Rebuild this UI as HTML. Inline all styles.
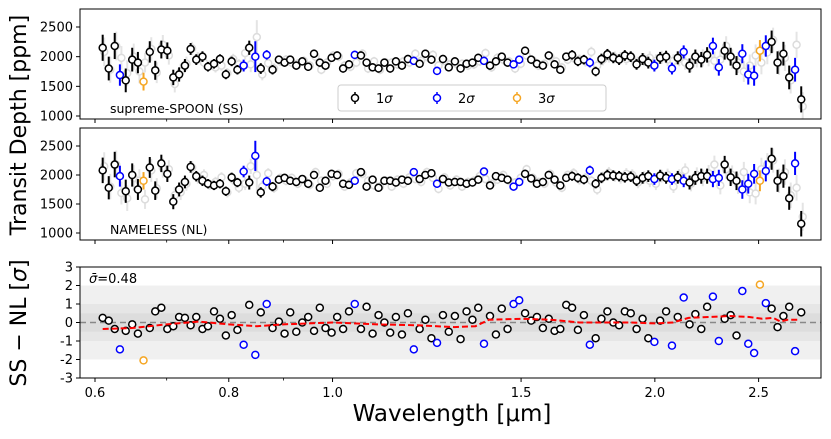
<!DOCTYPE html>
<html><head><meta charset="utf-8">
<style>
html,body{margin:0;padding:0;background:#fff;}
svg{display:block;font-family:"DejaVu Sans","Liberation Sans",sans-serif;}
</style></head>
<body>
<svg id="chart" width="831" height="439" viewBox="0 0 831 439" xmlns="http://www.w3.org/2000/svg">
<defs>
<clipPath id="c1"><rect x="80" y="9" width="741" height="110"/></clipPath>
<clipPath id="c2"><rect x="80" y="128" width="741" height="112"/></clipPath>
<clipPath id="c3"><rect x="80" y="267" width="741" height="111"/></clipPath>
</defs>
<g id="bands"></g>
<g id="marks"></g>
<g id="frames"></g>
<text x="0" y="0" transform="translate(26,125) rotate(-90)" text-anchor="middle" font-size="22">Transit Depth [ppm]</text>
<text x="0" y="0" transform="translate(26,323) rotate(-90)" text-anchor="middle" font-size="22">SS − NL [<tspan font-style="italic">σ</tspan>]</text>
<text x="452" y="421" text-anchor="middle" font-size="23">Wavelength [μm]</text>
<text x="110" y="113" font-size="12.5">supreme-SPOON (SS)</text>
<text x="110" y="234" font-size="12.5">NAMELESS (NL)</text>
<text x="89" y="283" font-size="13"><tspan font-style="italic">σ̄</tspan>=0.48</text>
<g>
<rect x="338" y="85" width="268" height="26" rx="3" fill="#fff" stroke="#ccc" stroke-width="1"/>
<g><line x1="355" y1="92" x2="355" y2="104" stroke="#000" stroke-width="1.5"/><circle cx="355" cy="98" r="3.5" fill="#fff" stroke="#000" stroke-width="1.5"/><text x="376" y="103" font-size="13">1<tspan font-style="italic">σ</tspan></text></g>
<g><line x1="437" y1="92" x2="437" y2="104" stroke="#00f" stroke-width="1.5"/><circle cx="437" cy="98" r="3.5" fill="#fff" stroke="#00f" stroke-width="1.5"/><text x="458" y="103" font-size="13">2<tspan font-style="italic">σ</tspan></text></g>
<g><line x1="517" y1="92" x2="517" y2="104" stroke="#f5a623" stroke-width="1.5"/><circle cx="517" cy="98" r="3.5" fill="#fff" stroke="#f5a623" stroke-width="1.5"/><text x="538" y="103" font-size="13">3<tspan font-style="italic">σ</tspan></text></g>
</g>
</svg>
<script>
const wavelengths=[0.610,0.618,0.626,0.633,0.641,0.650,0.658,0.666,0.675,0.683,
0.692,0.701,0.710,0.719,0.728,0.737,0.746,0.756,0.765,0.775,
0.785,0.795,0.805,0.815,0.826,0.836,0.847,0.857,0.868,0.879,
0.891,0.902,0.913,0.925,0.937,0.949,0.961,0.973,0.985,0.998,
1.010,1.023,1.036,1.049,1.063,1.076,1.090,1.104,1.118,1.132,
1.146,1.161,1.176,1.191,1.206,1.221,1.237,1.252,1.268,1.284,
1.301,1.317,1.334,1.351,1.368,1.385,1.403,1.421,1.439,1.457,
1.476,1.494,1.513,1.533,1.552,1.572,1.592,1.612,1.632,1.653,
1.674,1.695,1.717,1.739,1.761,1.783,1.806,1.829,1.852,1.875,
1.899,1.923,1.948,1.972,1.998,2.023,2.049,2.075,2.101,2.128,
2.155,2.182,2.210,2.238,2.266,2.295,2.324,2.354,2.384,2.414,
2.445,2.476,2.507,2.539,2.571,2.604,2.637,2.670,2.704,2.740];
const ssDepth=[2150,1800,2180,1690,1600,1950,1900,1580,2080,1770,
2120,2100,1650,1700,1850,2130,1950,2000,1830,1880,
1960,1700,1920,1780,1850,2150,2000,1800,2030,1780,
1950,1900,1950,1850,1920,1830,2050,1900,1850,1980,
2020,1800,1870,2030,2020,1900,1820,1800,1900,1800,
1920,1850,1960,1930,1880,2050,1950,1760,1960,1820,
1920,1800,1880,1900,1980,1930,1850,1920,2000,1900,
1870,1950,2100,1950,1880,1850,2020,1870,1780,2000,
2030,1920,1950,1900,1750,1960,2040,1980,1950,2020,
2000,1870,1960,1900,1850,1980,2000,1800,1980,2080,
1850,2000,1950,2030,2180,1820,2100,2000,1850,2050,
1700,1680,2100,2180,2250,1900,2050,1650,1780,1280];
const nlDepth=[2080,1780,2180,1980,1720,2000,1750,1900,2130,1730,
2200,2020,1540,1750,1880,2140,1980,1900,1850,1820,
1850,1720,1960,1870,2060,1870,2330,1700,1890,1800,
1920,1950,1900,1880,1930,1850,2000,1780,1900,2020,
2000,1850,1830,1900,2050,1800,1920,1780,1900,1900,
1870,1920,1900,2050,1930,2000,2030,1850,1930,1870,
1880,1880,1850,1870,1920,2060,1820,1980,1950,1920,
1800,1880,2020,1940,1850,1880,2000,1920,1820,1950,
1980,1950,1920,2080,1850,1950,2000,1990,1980,1960,
1970,1900,1950,1980,1930,1990,1950,1930,1960,1900,
1870,1950,1980,1980,1930,1950,2180,1960,1900,1750,
1850,2020,1900,2070,2280,1900,1980,1600,2200,1160];
const depthErr=[220,200,220,180,200,200,180,150,180,160,
150,140,130,120,110,100,90,90,80,80,
80,80,80,80,100,120,260,90,80,80,
70,70,70,70,70,70,70,70,70,70,
70,70,70,70,70,70,70,70,70,70,
70,70,70,70,70,70,70,70,70,70,
70,70,70,70,70,70,70,70,70,70,
70,70,70,70,70,70,70,70,70,70,
80,80,80,80,80,90,90,90,90,90,
90,90,100,100,100,100,100,100,110,110,
120,120,130,130,140,140,150,150,160,160,
170,170,180,180,190,190,200,200,200,220];
const diffSigma=[0.25,0.1,-0.35,-1.45,-0.45,-0.1,-0.6,-2.05,-0.3,0.6,
0.8,-0.35,-0.2,0.3,0.25,-0.15,0.3,-0.35,-0.2,0.6,
0.2,-0.7,0.4,-0.4,-1.2,0.95,-1.75,0.55,1.0,-0.3,
0.05,-0.6,0.55,-0.5,0.0,0.3,-0.45,0.8,-0.3,-0.55,
0.3,-0.35,0.6,1.0,-0.35,0.85,-0.6,0.4,0.0,-0.55,
0.3,-0.65,0.5,-1.45,-0.35,0.15,-0.85,-1.1,0.4,-0.5,
0.35,-0.9,0.6,0.15,0.8,-1.15,0.35,-0.65,0.75,-0.35,
1.0,1.2,0.5,0.1,0.3,-0.3,0.2,-0.45,-0.35,0.95,
0.8,-0.4,0.4,-1.2,-0.85,0.2,0.6,0.0,-0.15,0.6,
0.5,-0.35,0.2,-0.85,-1.05,0.1,0.6,-1.25,0.3,1.35,
-0.1,0.45,-0.35,0.85,1.4,-1.0,0.2,0.4,-0.7,1.7,
-1.15,-1.65,2.05,1.05,0.75,-0.25,0.35,0.85,-1.55,0.55];
const trendWl=[0.61,0.65,0.70,0.75,0.80,0.85,0.90,1.00,1.10,1.20,1.30,1.36,1.40,1.50,1.60,1.70,1.80,1.90,2.00,2.08,2.15,2.25,2.35,2.45,2.52,2.58,2.62,2.66,2.72];
const trendVal=[-0.35,-0.3,-0.1,0.05,-0.1,-0.2,-0.1,0.0,-0.1,-0.15,-0.25,-0.2,0.15,0.2,0.15,0.0,0.0,0.0,-0.05,0.0,0.25,0.3,0.35,0.3,0.2,0.25,0.05,0.15,0.15];
const xTickVals=[0.6,0.8,1.0,1.5,2.0,2.5];
const xTickLabels=["0.6","0.8","1.0","1.5","2.0","2.5"];
const xMinorVals=[0.7,0.9];
const depthTicks=[1000,1500,2000,2500];
const diffTicks=[-3,-2,-1,0,1,2,3];

const NS="http://www.w3.org/2000/svg";
const svg=document.getElementById('chart');
const marks=document.getElementById('marks');
const frames=document.getElementById('frames');
const bands=document.getElementById('bands');
function xs(l){return 95+465*Math.log(l/0.6);}
function y1(v){return 27+(2500-v)*89/1500;}
function y2(v){return 146+(2500-v)*87/1500;}
function y3(v){return 322.5-v*18.5;}
function mk(tag,attrs,parent){const e=document.createElementNS(NS,tag);for(const k in attrs)e.setAttribute(k,attrs[k]);parent.appendChild(e);return e;}
function colorFor(d){const a=Math.abs(d);return a>=2?'#f5a623':(a>=1?'#0000ff':'#000');}

const bandDefs=[[2,'#f0f0f0'],[1,'#e6e6e6'],[0.5,'#dddddd']];
bandDefs.forEach(b=>{
  const r=mk('rect',{x:80,y:y3(b[0]),width:741,height:y3(-b[0])-y3(b[0]),fill:b[1]},bands);
  
  
});
const zl=mk('line',{x1:80,x2:821,y1:y3(0),y2:y3(0),stroke:'#888','stroke-width':1.5,'stroke-dasharray':'6,4'},bands);



function depthPanel(main,other,yf,clip,name){
  const g=mk('g',{'clip-path':'url(#'+clip+')'},marks);
  
  
  wavelengths.forEach((w,i)=>{
    const x=xs(w)+1.5,y=yf(other[i]),e=depthErr[i]*1.1;
    const l=mk('line',{x1:x,x2:x,y1:yf(other[i]+e),y2:yf(other[i]-e),stroke:'#e4e4e4','stroke-width':2},g);
    
    
    const c=mk('circle',{cx:x,cy:y,r:3.5,fill:'#fff',stroke:'#dcdcdc','stroke-width':1.5},g);
    
    
  });
  wavelengths.forEach((w,i)=>{
    const x=xs(w),y=yf(main[i]),e=depthErr[i],col=colorFor(diffSigma[i]);
    const l=mk('line',{x1:x,x2:x,y1:yf(main[i]+e),y2:yf(main[i]-e),stroke:col,'stroke-width':2},g);
    
    
    const c=mk('circle',{cx:x,cy:y,r:3.5,fill:'#fff',stroke:col,'stroke-width':1.5},g);
    
    
  });
}
depthPanel(ssDepth,nlDepth,y1,'c1','ss');
depthPanel(nlDepth,ssDepth,y2,'c2','nl');

const g3=mk('g',{'clip-path':'url(#c3)'},marks);


wavelengths.forEach((w,i)=>{
  const c=mk('circle',{cx:xs(w),cy:y3(diffSigma[i]),r:3.5,fill:'#fff',stroke:colorFor(diffSigma[i]),'stroke-width':1.5},g3);
  
  
});
const tp=mk('polyline',{points:trendWl.map((w,i)=>xs(w)+','+y3(trendVal[i])).join(' '),fill:'none',stroke:'#ff0000','stroke-width':2,'stroke-dasharray':'6,3'},g3);



const panels=[[9,119,'ss-panel'],[128,240,'nl-panel'],[267,378,'diff-panel']];
panels.forEach(p=>{
  const r=mk('rect',{x:80,y:p[0],width:741,height:p[1]-p[0],fill:'none',stroke:'#000','stroke-width':1},frames);
  
  
  xTickVals.forEach(v=>{
    const t=mk('line',{x1:xs(v),x2:xs(v),y1:p[1],y2:p[1]+4,stroke:'#000','stroke-width':1},frames);
    
    
  });
  xMinorVals.forEach(v=>{
    const t=mk('line',{x1:xs(v),x2:xs(v),y1:p[1],y2:p[1]+2.5,stroke:'#000','stroke-width':0.8},frames);
    
    
  });
});
xTickVals.forEach((v,i)=>{
  const t=mk('text',{x:xs(v),y:397,'text-anchor':'middle','font-size':13},frames);
  t.textContent=xTickLabels[i];
  
  
});
[[y1],[y2]].forEach(a=>{
  depthTicks.forEach(v=>{
    const y=a[0](v);
    const t=mk('line',{x1:76,x2:80,y1:y,y2:y,stroke:'#000','stroke-width':1},frames);
    
    
    const tx=mk('text',{x:73,y:y+4.5,'text-anchor':'end','font-size':13},frames);
    tx.textContent=v;
    
    
  });
});
diffTicks.forEach(v=>{
  const y=y3(v);
  const t=mk('line',{x1:76,x2:80,y1:y,y2:y,stroke:'#000','stroke-width':1},frames);
  
  
  const tx=mk('text',{x:73,y:y+4.5,'text-anchor':'end','font-size':13},frames);
  tx.textContent=v;
  
  
});
</script>
</body></html>
